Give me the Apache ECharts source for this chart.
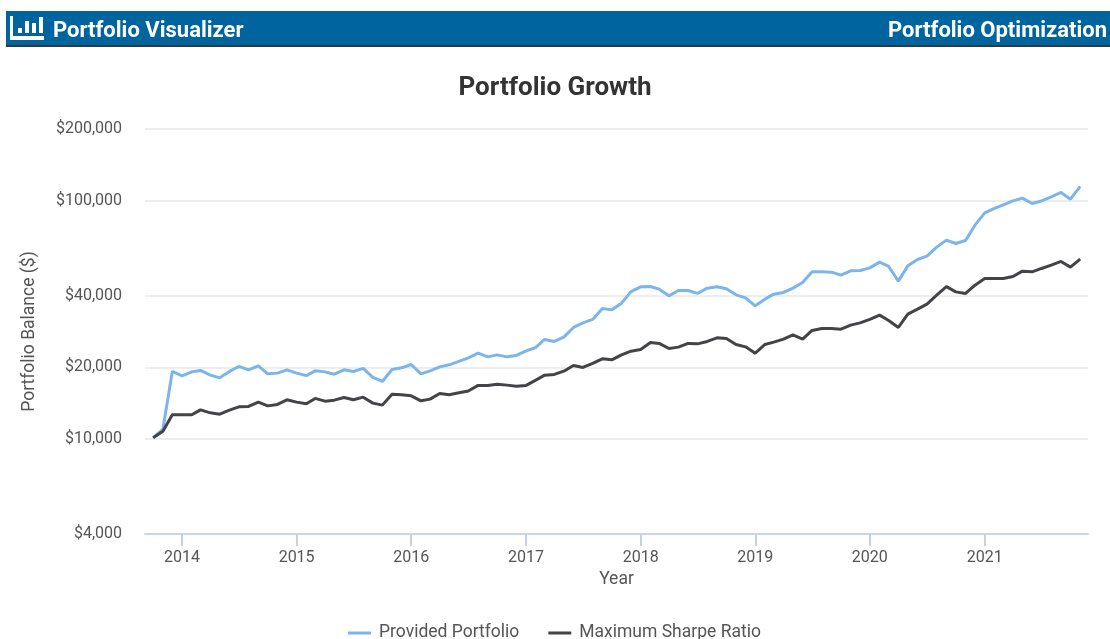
<!DOCTYPE html>
<html>
<head>
<meta charset="utf-8">
<title>Portfolio Growth</title>
<script src="https://cdn.jsdelivr.net/npm/echarts@6/dist/echarts.min.js"></script>
<style>
  html, body { margin: 0; padding: 0; background: #fff; }
  #chart { width: 1110px; height: 639px; }
</style>
</head>
<body>
<div id="chart"></div>
<script>
// monthly balances, first point Oct 2013
const startYear = 2013;
const startMonth = 9;
const providedPortfolio = [
  10130, 11010, 19230, 18430, 19150, 19420, 18550, 18080, 19230, 20180,
  19530, 20300, 18790, 18920, 19530, 18920, 18470, 19340, 19150, 18730,
  19530, 19230, 19800, 18150, 17460, 19600, 19910, 20570, 18790, 19340,
  20100, 20500, 21180, 21910, 22950, 22140, 22570, 22140, 22440, 23460,
  24240, 26190, 25690, 26780, 29410, 30750, 31780, 35340, 34860, 37190,
  41560, 43540, 43700, 42580, 39910, 42050, 42050, 40850, 42990, 43540,
  42710, 40300, 39150, 36240, 38660, 40570, 41240, 42990, 45420, 50320,
  50320, 50170, 48740, 50810, 51010, 52300, 55260, 53010, 46000, 53320,
  56720, 58560, 63880, 68350, 66200, 68150, 79000, 88970, 92830, 96120,
  99900, 102540, 97430, 99800, 103850, 108340, 101560, 114810
];
const maxSharpe = [
  10130, 10800, 12650, 12650, 12650, 13270, 12890, 12730, 13230, 13660,
  13710, 14300, 13790, 13980, 14620, 14300, 14080, 14820, 14430, 14570,
  14960, 14620, 15000, 14160, 13890, 15440, 15340, 15190, 14480, 14720,
  15550, 15340, 15640, 15930, 16800, 16800, 17010, 16850, 16680, 16800,
  17680, 18550, 18680, 19280, 20380, 19990, 20780, 21720, 21510, 22570,
  23390, 23780, 25440, 25200, 24010, 24320, 25200, 25100, 25690, 26600,
  26450, 24960, 24390, 22950, 24960, 25520, 26270, 27360, 26270, 28570,
  29130, 29130, 28930, 30070, 30750, 31780, 33120, 31470, 29410, 33440,
  35100, 36840, 40180, 43620, 41480, 40850, 44260, 47210, 47210, 47210,
  48130, 50660, 50320, 52000, 53690, 55640, 52660, 56890
];
const yearTicks = [2014, 2015, 2016, 2017, 2018, 2019, 2020, 2021];
const balanceTicks = [4000, 10000, 20000, 40000, 100000, 200000];

const months = providedPortfolio.map((_, i) => Date.UTC(startYear, startMonth + i, 1));
const yearStarts = yearTicks.map(y => Date.UTC(y, 0, 1));

const withDates = (values) => values.map((v, i) => [months[i], v]);
const textColor = '#555';
const fontFamily = 'Roboto';

const chart = echarts.init(document.getElementById('chart'));

chart.setOption({
  animation: false,
  backgroundColor: '#fff',
  textStyle: { fontFamily: fontFamily },
  title: {
    text: 'Portfolio Growth',
    left: 'center',
    top: 70,
    textStyle: { fontFamily: fontFamily, fontSize: 26, fontWeight: 'bold', color: '#333' }
  },
  legend: {
    left: 348,
    top: 624,
    padding: 0,
    icon: 'rect',
    itemWidth: 23,
    itemHeight: 3,
    itemGap: 29,
    textStyle: { fontFamily: fontFamily, fontSize: 17.5, color: textColor, padding: [0, 0, 0, 3] }
  },
  grid: { left: 145, right: 22, top: 129, bottom: 105 },
  xAxis: {
    type: 'value',
    min: Date.UTC(2013, 8, 5),
    max: Date.UTC(2021, 10, 26),
    name: 'Year',
    nameLocation: 'middle',
    nameGap: 34,
    nameTextStyle: { fontFamily: fontFamily, fontSize: 17.5, color: textColor },
    axisLine: { onZero: false, lineStyle: { color: '#ccd6eb', width: 2 } },
    axisTick: { show: true, length: 12, customValues: yearStarts, lineStyle: { color: '#c3d0ea', width: 2 } },
    axisLabel: {
      customValues: yearStarts,
      margin: 16,
      fontFamily: fontFamily,
      fontSize: 16,
      color: textColor,
      formatter: (value) => String(new Date(value).getUTCFullYear())
    },
    splitLine: { show: false }
  },
  yAxis: {
    type: 'log',
    logBase: 10,
    min: 4000,
    max: 200000,
    name: 'Portfolio Balance ($)',
    nameLocation: 'middle',
    nameRotate: 90,
    nameGap: 106,
    nameTextStyle: { fontFamily: fontFamily, fontSize: 17.5, color: textColor },
    axisLine: { show: false },
    axisTick: { show: false, customValues: balanceTicks },
    axisLabel: {
      customValues: balanceTicks,
      margin: 23,
      padding: [2, 0, 0, 0],
      fontFamily: fontFamily,
      fontSize: 16,
      color: textColor,
      formatter: (value) => '$' + Math.round(value).toLocaleString('en-US')
    },
    splitLine: { show: true, lineStyle: { color: '#eeeeee', width: 2 } },
    minorSplitLine: { show: false }
  },
  series: [
    {
      name: 'Provided Portfolio',
      type: 'line',
      data: withDates(providedPortfolio),
      showSymbol: false,
      symbol: 'none',
      lineStyle: { color: '#7cb5ec', width: 3 },
      itemStyle: { color: '#7cb5ec' }
    },
    {
      name: 'Maximum Sharpe Ratio',
      type: 'line',
      data: withDates(maxSharpe),
      showSymbol: false,
      symbol: 'none',
      lineStyle: { color: '#434348', width: 3 },
      itemStyle: { color: '#434348' }
    }
  ],
  graphic: [
    // header bar
    { type: 'rect', silent: true, shape: { x: 6, y: 11, width: 1104, height: 34 }, style: { fill: '#00649f' } },
    { type: 'rect', silent: true, shape: { x: 6, y: 45, width: 1104, height: 2 }, style: { fill: '#2b3a44' } },
    // bar icon
    { type: 'rect', silent: true, shape: { x: 10, y: 16, width: 3, height: 24 }, style: { fill: '#fff' } },
    { type: 'rect', silent: true, shape: { x: 10, y: 36, width: 34, height: 4 }, style: { fill: '#fff' } },
    { type: 'rect', silent: true, shape: { x: 18, y: 28, width: 4, height: 5 }, style: { fill: '#fff' } },
    { type: 'rect', silent: true, shape: { x: 25, y: 21, width: 4, height: 12 }, style: { fill: '#fff' } },
    { type: 'rect', silent: true, shape: { x: 32, y: 23, width: 4, height: 10 }, style: { fill: '#fff' } },
    { type: 'rect', silent: true, shape: { x: 39, y: 17, width: 4, height: 16 }, style: { fill: '#fff' } },
    {
      type: 'text',
      silent: true,
      style: { x: 53, y: 31, text: 'Portfolio Visualizer', fill: '#fff', font: 'bold 22px Roboto', textVerticalAlign: 'middle' }
    },
    {
      type: 'text',
      silent: true,
      style: { x: 1107, y: 31, text: 'Portfolio Optimization', fill: '#fff', font: 'bold 22px Roboto', textAlign: 'right', textVerticalAlign: 'middle' }
    }
  ]
});

window.addEventListener('resize', () => chart.resize());
</script>
</body>
</html>
